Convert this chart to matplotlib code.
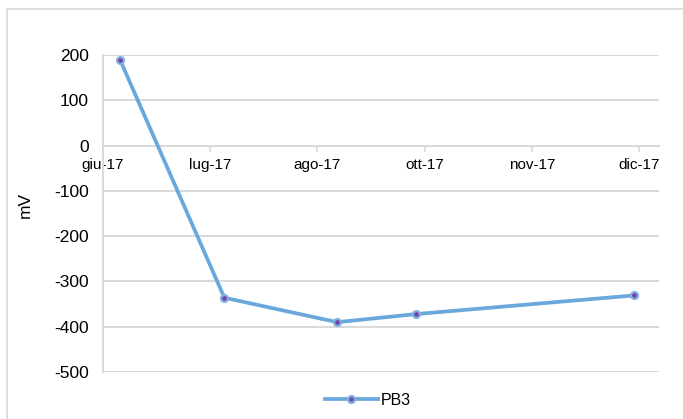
import matplotlib
matplotlib.use('Agg')
import matplotlib.pyplot as plt
import matplotlib.dates as mdates
from matplotlib.patches import Rectangle
import pandas as pd

plt.rcParams['font.family'] = ['Liberation Sans', 'DejaVu Sans']
plt.rcParams['axes.unicode_minus'] = False

# Data
dates = ['2017-06-18', '2017-07-25', '2017-09-03', '2017-10-01', '2017-12-17']
values = [190, -336, -390, -372, -331]
series_name = 'PB3'

tick_dates = ['2017-06-12', '2017-07-20', '2017-08-27', '2017-10-04', '2017-11-11', '2017-12-19']
tick_labels = ['giu-17', 'lug-17', 'ago-17', 'ott-17', 'nov-17', 'dic-17']
x_range = ['2017-06-12', '2017-12-26']
y_ticks = [200, 100, 0, -100, -200, -300, -400, -500]

grid_color = '#D9D9D9'
line_color = '#6AA7DC'

fig = plt.figure(figsize=(6.83, 4.19), dpi=100)
ax = fig.add_axes([103 / 683, 1 - 372 / 419, 556 / 683, 317 / 419])

x = mdates.date2num(pd.to_datetime(dates))
ax.plot(x, values, color=line_color, linewidth=2.7, marker='o', markersize=5,
        markerfacecolor='#7B3FA8', markeredgecolor='#7DB3E3', markeredgewidth=1.6,
        label=series_name, zorder=3)

ax.set_xlim(mdates.date2num(pd.to_datetime(x_range)))
ax.set_ylim(-500, 200)
ax.set_yticks(y_ticks)
ax.set_xticks(mdates.date2num(pd.to_datetime(tick_dates)))
ax.set_xticklabels(tick_labels)

# Gridlines
ax.yaxis.grid(True, color=grid_color, linewidth=1.4)
ax.xaxis.grid(False)
ax.set_axisbelow(True)

# Spines: only left and a horizontal axis at zero
for side in ['top', 'right']:
    ax.spines[side].set_visible(False)
ax.spines['left'].set_color(grid_color)
ax.spines['left'].set_linewidth(1.4)
ax.spines['bottom'].set_position(('data', 0))
ax.spines['bottom'].set_color(grid_color)
ax.spines['bottom'].set_linewidth(1.4)

ax.tick_params(axis='y', length=0, labelsize=12.5, pad=10, colors='black')
ax.tick_params(axis='x', length=4, width=1.2, color=grid_color, labelsize=11, pad=5)

ax.set_ylabel('mV', fontsize=12.5)
ax.yaxis.set_label_coords(-0.126, 0.527)

ax.legend(loc='center', bbox_to_anchor=(368 / 683, 1 - 400 / 419), bbox_transform=fig.transFigure,
          frameon=False, fontsize=11.5, handlelength=3.3, handletextpad=0.2)

# Outer chart border
fig.patches.append(Rectangle((7 / 683, -0.1), 1.0, 1 - 9 / 419 + 0.1, transform=fig.transFigure,
                             fill=False, edgecolor=grid_color, linewidth=1.2))

fig.savefig('out.png', dpi=100, facecolor='white')
plt.close(fig)
